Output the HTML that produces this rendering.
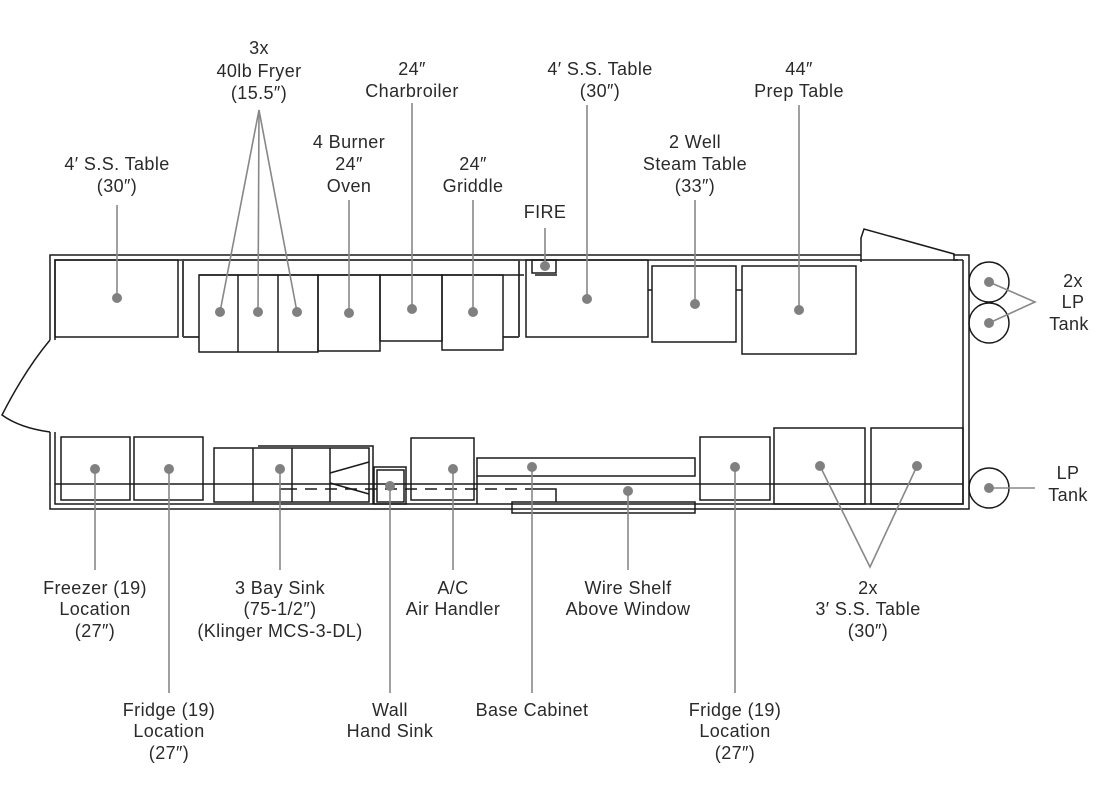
<!DOCTYPE html>
<html><head><meta charset="utf-8"><style>
html,body{margin:0;padding:0;background:#fff;width:1110px;height:786px;overflow:hidden}
text{font-family:"Liberation Sans",sans-serif;font-size:18px;fill:#2a2a2a;text-anchor:middle;letter-spacing:0.4px}
</style></head><body>
<svg width="1110" height="786" viewBox="0 0 1110 786" xmlns="http://www.w3.org/2000/svg">
<g fill="none" stroke="#1a1a1a" stroke-width="1.5">
<polyline points="50,340 50,255 861,255"/>
<polyline points="55,340 55,260 958,260"/>
<path d="M50,340 Q25,370 2,415 Q20,428 50,432"/>
<polyline points="50,432 50,509 969,509 969,255 954,255 954,254"/>
<polyline points="55,432 55,504 963,504 963,260"/>
<polyline points="861,262 861,238 864,229 954,254 954,260 963,260"/>
<rect x="55" y="260" width="123" height="77"/>
<polyline points="183,337 183,260 519,260 519,337" stroke="#444" stroke-width="2"/>
<line x1="199" y1="275" x2="524" y2="275"/>
<line x1="183" y1="337" x2="199" y2="337" stroke="#444" stroke-width="2"/>
<line x1="503" y1="337" x2="519" y2="337" stroke="#444" stroke-width="2"/>
<rect x="199" y="275" width="119" height="77"/>
<line x1="238" y1="275" x2="238" y2="352"/>
<line x1="278" y1="275" x2="278" y2="352"/>
<rect x="318" y="275" width="62" height="76"/>
<rect x="380" y="275" width="62" height="66"/>
<rect x="442" y="275" width="61" height="75"/>
<rect x="532" y="260" width="24" height="13"/>
<line x1="535" y1="275" x2="557" y2="275"/>
<rect x="526" y="260" width="122" height="77"/>
<rect x="652" y="266" width="84" height="76"/>
<line x1="648" y1="290" x2="652" y2="290"/>
<line x1="736" y1="290" x2="742" y2="290"/>
<rect x="742" y="266" width="114" height="88"/>
<circle cx="989" cy="282" r="20"/>
<circle cx="989" cy="323" r="20"/>
<circle cx="989" cy="488" r="20"/>
<line x1="55" y1="484" x2="963" y2="484"/>
<rect x="61" y="437" width="69" height="63"/>
<rect x="134" y="437" width="69" height="63"/>
<rect x="214" y="448" width="155" height="54"/>
<line x1="253" y1="448" x2="253" y2="502"/>
<line x1="292" y1="448" x2="292" y2="502"/>
<line x1="330" y1="448" x2="330" y2="502"/>
<polyline points="258,446 373,446 373,504"/>
<line x1="330" y1="473" x2="369" y2="462"/>
<line x1="330" y1="483" x2="369" y2="494"/>
<polyline points="280,502 280,489 285,489"/>
<line x1="285" y1="489" x2="537" y2="489" stroke-dasharray="12,8"/>
<polyline points="537,489 556,489 556,502"/>
<rect x="374" y="467" width="32" height="37"/>
<rect x="377" y="470" width="27" height="32"/>
<rect x="411" y="438" width="63" height="62"/>
<rect x="477" y="458" width="218" height="18"/>
<line x1="477" y1="476" x2="477" y2="504"/>
<rect x="512" y="502" width="183" height="11"/>
<rect x="700" y="437" width="70" height="63"/>
<rect x="774" y="428" width="91" height="76"/>
<rect x="871" y="428" width="92" height="76"/>
</g>
<g stroke="#888" stroke-width="1.6" fill="none">
<line x1="117" y1="205" x2="117" y2="298"/>
<polyline points="220,312 259,110 297,312"/>
<line x1="259" y1="110" x2="258" y2="312"/>
<line x1="349" y1="200" x2="349" y2="313"/>
<line x1="412" y1="103" x2="412" y2="309"/>
<line x1="473" y1="200" x2="473" y2="312"/>
<line x1="545" y1="228" x2="545" y2="266"/>
<line x1="587" y1="105" x2="587" y2="299"/>
<line x1="695" y1="200" x2="695" y2="304"/>
<line x1="799" y1="105" x2="799" y2="310"/>
<polyline points="989,282 1035,302 989,323"/>
<line x1="989" y1="488" x2="1035" y2="488"/>
<line x1="95" y1="469" x2="95" y2="570"/>
<line x1="169" y1="469" x2="169" y2="693"/>
<line x1="280" y1="469" x2="280" y2="570"/>
<line x1="390" y1="486" x2="390" y2="693"/>
<line x1="453" y1="469" x2="453" y2="570"/>
<line x1="532" y1="467" x2="532" y2="693"/>
<line x1="628" y1="491" x2="628" y2="570"/>
<line x1="735" y1="467" x2="735" y2="693"/>
<polyline points="820,466 870,567 917,466"/>
</g>
<g fill="#808080">
<circle cx="117" cy="298" r="5"/><circle cx="220" cy="312" r="5"/><circle cx="258" cy="312" r="5"/><circle cx="297" cy="312" r="5"/>
<circle cx="349" cy="313" r="5"/><circle cx="412" cy="309" r="5"/><circle cx="473" cy="312" r="5"/><circle cx="545" cy="266" r="5"/>
<circle cx="587" cy="299" r="5"/><circle cx="695" cy="304" r="5"/><circle cx="799" cy="310" r="5"/>
<circle cx="989" cy="282" r="5"/><circle cx="989" cy="323" r="5"/><circle cx="989" cy="488" r="5"/>
<circle cx="95" cy="469" r="5"/><circle cx="169" cy="469" r="5"/><circle cx="280" cy="469" r="5"/><circle cx="390" cy="486" r="5"/>
<circle cx="453" cy="469" r="5"/><circle cx="532" cy="467" r="5"/><circle cx="628" cy="491" r="5"/><circle cx="735" cy="467" r="5"/>
<circle cx="820" cy="466" r="5"/><circle cx="917" cy="466" r="5"/>
</g>
<g>
<text x="259" y="54">3x</text><text x="259" y="77">40lb Fryer</text><text x="259" y="99">(15.5″)</text>
<text x="412" y="75">24″</text><text x="412" y="97">Charbroiler</text>
<text x="600" y="75">4′ S.S. Table</text><text x="600" y="97">(30″)</text>
<text x="799" y="75">44″</text><text x="799" y="97">Prep Table</text>
<text x="349" y="148">4 Burner</text><text x="349" y="170">24″</text><text x="349" y="192">Oven</text>
<text x="473" y="170">24″</text><text x="473" y="192">Griddle</text>
<text x="117" y="170">4′ S.S. Table</text><text x="117" y="192">(30″)</text>
<text x="695" y="148">2 Well</text><text x="695" y="170">Steam Table</text><text x="695" y="192">(33″)</text>
<text x="545" y="218">FIRE</text>
<text x="1073" y="287">2x</text><text x="1073" y="308">LP</text><text x="1069" y="330">Tank</text>
<text x="1068" y="479">LP</text><text x="1068" y="501">Tank</text>
<text x="95" y="594">Freezer (19)</text><text x="95" y="615">Location</text><text x="95" y="637">(27″)</text>
<text x="280" y="594">3 Bay Sink</text><text x="280" y="615">(75-1/2″)</text><text x="280" y="637">(Klinger MCS-3-DL)</text>
<text x="453" y="594">A/C</text><text x="453" y="615">Air Handler</text>
<text x="628" y="594">Wire Shelf</text><text x="628" y="615">Above Window</text>
<text x="868" y="594">2x</text><text x="868" y="615">3′ S.S. Table</text><text x="868" y="637">(30″)</text>
<text x="169" y="716">Fridge (19)</text><text x="169" y="737">Location</text><text x="169" y="759">(27″)</text>
<text x="390" y="716">Wall</text><text x="390" y="737">Hand Sink</text>
<text x="532" y="716">Base Cabinet</text>
<text x="735" y="716">Fridge (19)</text><text x="735" y="737">Location</text><text x="735" y="759">(27″)</text>
</g>
</svg>
</body></html>
